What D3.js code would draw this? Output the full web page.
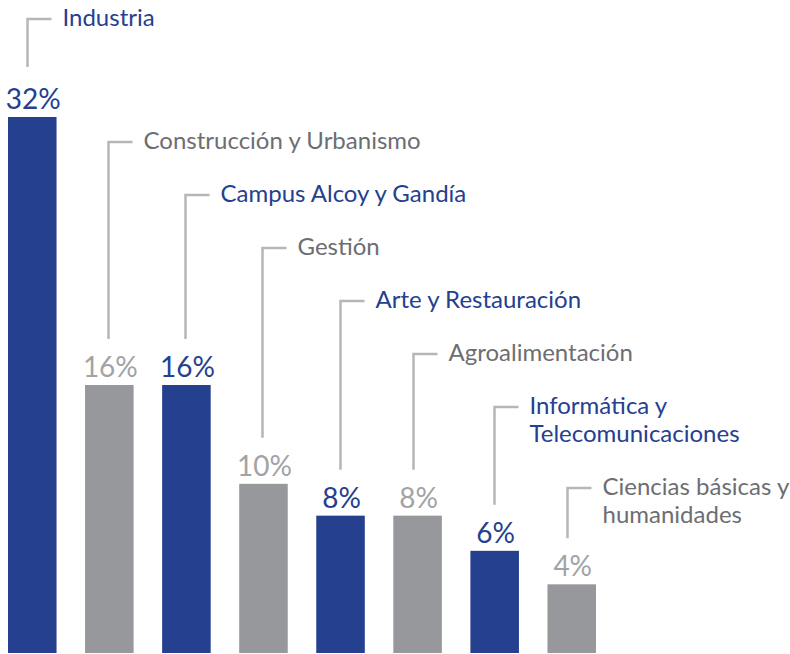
<!DOCTYPE html>
<html lang="es">
<head>
  <meta charset="utf-8" />
  <script src="https://d3js.org/d3.v7.min.js"></script>
  <style>
    body { margin: 0; background: #fff; }
    text { font-family: Lato, "Open Sans", sans-serif; }
  </style>
</head>
<body>
  <script>
    // datos
    var categories = [
      ["Industria"],
      ["Construcción y Urbanismo"],
      ["Campus Alcoy y Gandía"],
      ["Gestión"],
      ["Arte y Restauración"],
      ["Agroalimentación"],
      ["Informática y", "Telecomunicaciones"],
      ["Ciencias básicas y", "humanidades"]
    ];
    var values = [32, 16, 16, 10.1, 8.2, 8.2, 6.1, 4.1];
    var valueLabels = ["32%", "16%", "16%", "10%", "8%", "8%", "6%", "4%"];
    var highlight = [true, false, true, false, true, false, true, false];

    var width = 790,
      height = 654;

    var blue = "#25408f",
      greyBar = "#97989c",
      greyText = "#6d6e71",
      greyValue = "#a2a3a6",
      leader = "#b5b6b8";

    // pequeños ajustes horizontales de las líneas guía (como en el original)
    var nudge = [-4, 0, 0, 0, 0, -4, 0, -4];

    var svg = d3.select("body")
      .append("svg")
      .attr("width", width)
      .attr("height", height);

    var x = d3.scaleBand()
      .domain(d3.range(values.length))
      .range([8, 596])
      .paddingInner(0.37)
      .paddingOuter(0);

    var y = d3.scaleLinear()
      .domain([0, 32])
      .range([653, 117]);

    // posición vertical de las etiquetas, apiladas en escalera
    var lineH = 28;
    var labelY = [19];
    categories.forEach(function (c, i) {
      if (i === 0) return;
      if (i === 1) { labelY.push(142); return; }
      labelY.push(labelY[i - 1] + lineH * categories[i - 1].length + 25);
    });

    svg.selectAll("rect.bar")
      .data(values)
      .enter().append("rect")
      .attr("class", "bar")
      .attr("x", function (d, i) { return x(i); })
      .attr("y", function (d) { return y(d); })
      .attr("width", x.bandwidth())
      .attr("height", function (d) { return y(0) - y(d); })
      .attr("fill", function (d, i) { return highlight[i] ? blue : greyBar; });

    svg.selectAll("text.value")
      .data(values)
      .enter().append("text")
      .attr("class", "value")
      .attr("x", function (d, i) { return x(i) + x.bandwidth() / 2 + 1; })
      .attr("y", function (d) { return y(d) - 8; })
      .attr("text-anchor", "middle")
      .style("font-size", "28px")
      .style("font-weight", 400)
      .attr("fill", function (d, i) { return highlight[i] ? blue : greyValue; })
      .text(function (d, i) { return valueLabels[i]; });

    var lx = function (i) { return Math.round(x(i) + x.bandwidth() / 2) - 0.5 + nudge[i]; };

    svg.selectAll("path.leader")
      .data(values)
      .enter().append("path")
      .attr("class", "leader")
      .attr("d", function (d, i) {
        var bottom = y(d) - (i === 0 ? 50 : 46);
        return "M" + lx(i) + "," + bottom + "V" + labelY[i] + "H" + (lx(i) + 24);
      })
      .attr("fill", "none")
      .attr("stroke", leader)
      .attr("stroke-width", 2.5);

    var labels = svg.selectAll("text.cat")
      .data(categories)
      .enter().append("text")
      .attr("class", "cat")
      .attr("x", function (d, i) { return lx(i) + 35; })
      .attr("y", function (d, i) { return labelY[i] + 7; })
      .style("font-size", "24px")
      .attr("fill", function (d, i) { return highlight[i] ? blue : greyText; });

    labels.selectAll("tspan")
      .data(function (d) { return d; })
      .enter().append("tspan")
      .attr("x", function () { return d3.select(this.parentNode).attr("x"); })
      .attr("dy", function (d, j) { return j === 0 ? 0 : lineH; })
      .text(function (d) { return d; });
  </script>
</body>
</html>
